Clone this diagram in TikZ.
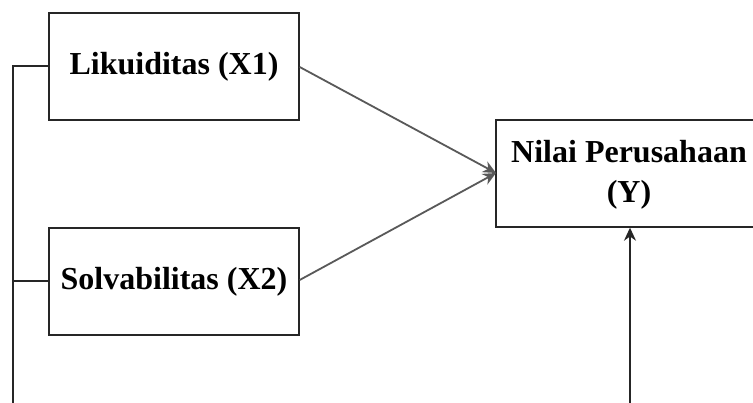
\documentclass[tikz,border=0pt]{standalone}
\usepackage{fontspec}
\setmainfont{Liberation Serif}
\usetikzlibrary{arrows.meta}
\begin{document}
\begin{tikzpicture}[x=1pt,y=-1pt,
  box/.style={draw=black!85,line width=1.4pt,inner sep=0pt,font=\fontsize{32}{40}\selectfont\bfseries,align=center},
  link/.style={draw=black!65,line width=1.8pt,-{Stealth[length=13pt,width=12pt]}},
  bracket/.style={draw=black!85,line width=1.4pt}]
\useasboundingbox (0,0) rectangle (753,403);
\fill[white] (0,0) rectangle (753,403);
\node[box,minimum width=250pt,minimum height=107pt] (x1) at (174,66.5) {Likuiditas (X1)};
\node[box,minimum width=250pt,minimum height=107pt] (x2) at (174,281.5) {Solvabilitas (X2)};
\node[box,minimum width=270pt,minimum height=107pt] (y) at (631,173.5) {};
\node[font=\fontsize{32}{40}\selectfont\bfseries,align=center,inner sep=0pt] (yt) at (629,175) {Nilai Perusahaan\\(Y)};
\coordinate (yin) at (496,173);
\coordinate (l1) at (13,66);
\coordinate (l2) at (13,281);
\coordinate (lb) at (13,403);
\coordinate (vb) at (630,403);
\draw[link] (x1.east |- 0,67) -- (yin);
\draw[link] (x2.east |- 0,280) -- (yin);
\draw[bracket] (x1.west |- l1) -- (l1) -- (lb);
\draw[bracket] (x2.west |- l2) -- (l2);
\draw[draw=black!85,line width=1.6pt,-{Stealth[length=13pt,width=12pt]}] (vb) -- (vb |- y.south);
\end{tikzpicture}
\end{document}
